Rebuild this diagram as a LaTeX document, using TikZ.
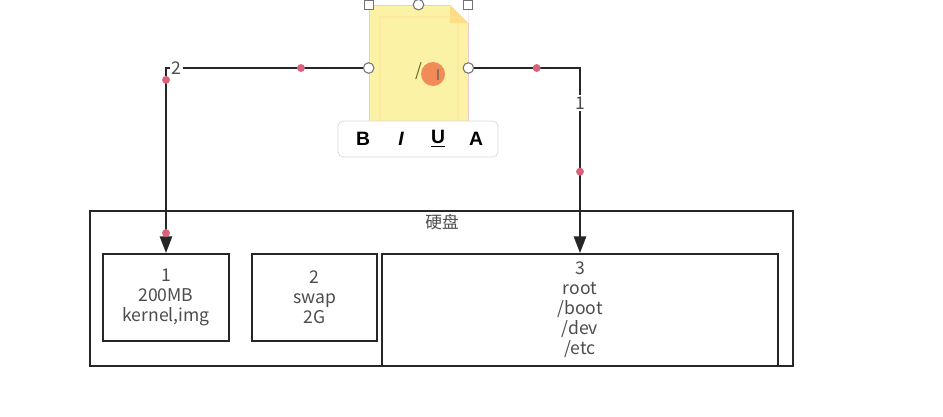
\documentclass[tikz,border=0pt]{standalone}
\usepackage{fontspec}
\setmainfont{Noto Sans CJK SC}
\newfontfamily\barfont{Liberation Sans}
\usetikzlibrary{arrows.meta,positioning,calc}
\definecolor{notefill}{HTML}{FCF2A6}
\definecolor{pinkdot}{HTML}{D9627A}
\definecolor{cursor}{HTML}{F07A4A}

\begin{document}
\begin{tikzpicture}[x=0.02cm,y=-0.02cm,>={Triangle[width=7pt,length=9.5pt]},
  part/.style={draw=black!85,line width=1.1pt,align=center,text=black!70,inner sep=0pt,
    font=\fontsize{10}{11.4}\selectfont},
  link/.style={draw=black!85,line width=1.1pt},
  tag/.style={fill=white,inner sep=1pt,text=black!70,font=\fontsize{10}{10}\selectfont},
  dot/.style={circle,fill=pinkdot,inner sep=0pt,minimum size=4.5pt},
  grip/.style={circle,draw=black!55,fill=white,inner sep=0pt,minimum size=6pt,line width=.6pt},
  sgrip/.style={grip,rectangle,minimum size=5pt},
  btn/.style={font=\barfont\bfseries\fontsize{11}{11}\selectfont}]
\useasboundingbox (0,0) rectangle (943,416);
% disk and its partitions
\node[part,minimum width=14.06cm,minimum height=3.1cm] (disk) at (441.5,288.5) {};
\node[text=black!70,font=\fontsize{9.5}{9.5}\selectfont] (disklbl) at (442,222) {硬盘};
\node[part,minimum width=2.52cm,minimum height=1.74cm] (p1) at (166,297.5) {1\\200MB\\kernel,img};
\node[part,minimum width=2.5cm,minimum height=1.74cm] (p2) at (314.5,297.5) {2\\swap\\2G};
\node[part,minimum width=7.92cm,minimum height=2.24cm] (p3) at (580,310) {3\\root\\/boot\\/dev\\/etc};
% sticky note
\node[draw=pinkdot!35,fill=notefill,minimum width=1.98cm,minimum height=2.52cm,inner sep=0pt] (note) at (418.5,68) {};
\draw[yellow!55!orange!35,line width=.6pt] (380,17) rectangle (458,131);
\fill[white] (450,4.5) -- (468.5,4.5) -- (468.5,23) -- cycle;
\fill[yellow!50!orange!45] (450,5) -- (468,23) -- (450,23) -- cycle;
\node[text=olive!70!black,font=\fontsize{10}{10}\selectfont] (typed) at (419,71) {/};
\fill[cursor,opacity=.85] (433,74) circle (12);
\node[text=black!60,font=\barfont\fontsize{9}{9}\selectfont] (caret) at (438,75) {I};
% connectors
\draw[link,->] (note.west) -| node[pos=.167,dot]{} node[pos=.475,tag]{2}
  node[pos=.532,dot]{} node[pos=.946,dot]{} (p1.north);
\draw[link,->] (note.east) -| node[pos=.306,dot]{} node[pos=.594,tag]{1}
  node[pos=.78,dot]{} (p3.north);
% selection handles
\node[sgrip] (h1) at (note.north west) {};
\node[sgrip] (h2) at (note.north east) {};
\node[grip] (h3) at (note.north) {};
\node[grip] (h4) at (note.west) {};
\node[grip] (h5) at (note.east) {};
% text toolbar
\node[draw=black!15,fill=white,rounded corners=3pt,minimum width=3.2cm,minimum height=.72cm] (bar) at (418,139) {};
\node[btn] (bb) at (363,139) {B};
\node[btn] (bi) at (401,139) {\itshape I};
\node[btn] (bu) at (438,139) {\underline{U}};
\node[btn] (ba) at (476,139) {A};
\end{tikzpicture}
\end{document}
